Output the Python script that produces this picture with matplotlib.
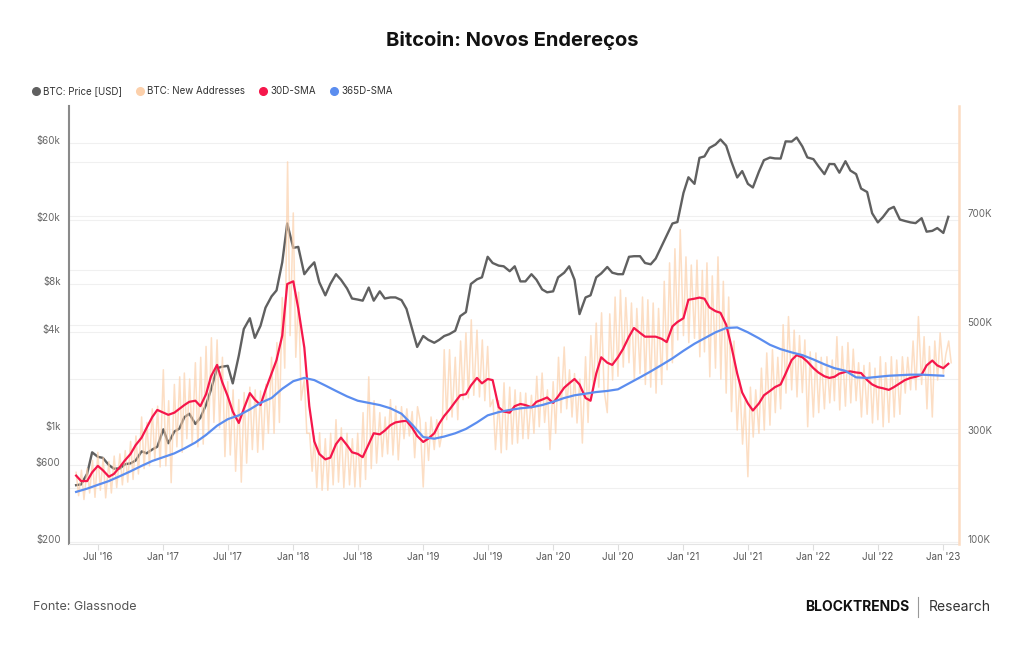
import pandas as pd
import matplotlib
matplotlib.use('Agg')
import matplotlib.pyplot as plt
from matplotlib.lines import Line2D
from matplotlib.ticker import NullLocator
from matplotlib.transforms import blended_transform_factory, ScaledTranslation

plt.rcParams['font.family'] = ['Inter', 'DejaVu Sans']

# dates: half-monthly for price and 30D SMA, monthly for 365D SMA, ~weekly for new addresses
half_dates = pd.date_range('2016-05-01', '2023-01-15', freq='SMS')
month_dates = pd.date_range('2016-05-01', '2023-01-01', freq='MS')
week_dates = [m + pd.Timedelta(days=d) for m in month_dates for d in (0, 7, 15, 22)]

# BTC price (USD)
price = [
    450, 455, 530, 720, 675, 665, 600, 570, 572, 607, 615, 640, 730, 710, 750, 780,
    1000, 820, 970, 1010, 1190, 1250, 1080, 1180, 1420, 1770, 2400, 2450,
    2480, 1930, 2870, 4200, 4900, 3700, 4400, 5700, 6700, 7300, 10900, 19000,
    13400, 13600, 9200, 10100, 10900, 8200, 6800, 8000, 9200, 8500, 7500, 6500,
    6400, 6300, 7600, 6300, 7200, 6500, 6600, 6600, 6350, 5600, 4200, 3250,
    3800, 3600, 3450, 3600, 3800, 3900, 4100, 5050, 5350, 8000, 8550, 8800,
    11800, 10800, 10400, 10300, 9600, 10300, 8300, 8300, 9200, 8500, 7400, 7100,
    7200, 8800, 9400, 10300, 8500, 5200, 6600, 6800, 8800, 9300, 10200, 9400,
    9200, 9200, 11800, 11900, 11900, 10800, 10600, 11500, 13800, 16000, 19000, 19400,
    29400, 36800, 33500, 48600, 49600, 56000, 58800, 63200, 57800, 46400, 36700, 40200,
    33500, 31800, 39900, 47000, 48800, 48200, 48100, 61500, 61300, 65000, 57200, 48900,
    47700, 43100, 38500, 44500, 44400, 39300, 46300, 40500, 38500, 31300, 29800, 22000,
    19300, 20800, 23300, 24100, 20100, 19700, 19300, 19100, 20500, 16900, 17100, 17800,
    16600, 20900,
]

# BTC new addresses (thousands)
new_addr = [
    228, 185, 232, 178, 235, 190, 250, 182, 265, 195, 255, 181, 248, 190, 258, 200,
    262, 205, 268, 210, 285, 215, 295, 225, 330, 235, 320, 240, 345, 250, 350, 238,
    417, 240, 360, 209, 390, 275, 404, 265, 411, 290, 400, 280, 430, 275, 440, 280,
    460, 300, 476, 320, 472, 310, 440, 257, 395, 260, 380, 230, 362, 210, 375, 245,
    385, 270, 380, 265, 378, 270, 390, 300, 440, 300, 467, 320, 550, 420, 800, 480,
    706, 440, 560, 361, 400, 300, 300, 230, 295, 200, 301, 195, 290, 195, 300, 205,
    325, 210, 310, 200, 300, 205, 290, 201, 300, 201, 338, 215, 404, 235, 360, 245,
    338, 257, 330, 262, 362, 260, 350, 251, 349, 290, 345, 295, 340, 255, 349,
    325, 201, 320, 250, 330, 270, 325, 275, 300, 454, 325, 454, 330, 440, 325,
    470, 362, 485, 365, 509, 370, 490, 367, 472, 360, 460, 349, 362, 270, 360, 264,
    393, 270, 385, 280, 380, 282, 375, 290, 374, 290, 370, 300, 405, 312, 411, 320,
    380, 270, 395, 300, 440, 338, 459, 345, 417, 330, 410, 319, 400, 282, 441, 320,
    480, 380, 503, 385, 522, 380, 338, 520, 398, 551, 405, 564, 422, 550, 430,
    540, 398, 530, 410, 551, 390, 546, 385, 540, 374, 530, 390, 580, 417, 614, 430,
    640, 472, 675, 480, 625, 467, 610, 475, 619, 441, 600, 450, 614, 404, 590, 420,
    625, 400, 580, 374, 551, 340, 470, 306, 398, 280, 360, 220, 385, 293, 380, 300,
    420, 306, 448, 315, 454, 338, 440, 345, 500, 374, 515, 380, 490, 367, 480, 375,
    472, 312, 450, 330, 448, 338, 440, 345, 441, 356, 435, 360, 478, 343, 460, 350,
    467, 356, 455, 360, 430, 330, 425, 335, 430, 319, 420, 325, 441, 312, 430, 320,
    441, 330, 435, 335, 441, 374, 440, 380, 470, 380, 515, 390, 478, 345, 460, 330,
    470, 398, 485, 410, 445, 470, 430,
]

# 30D SMA of new addresses (thousands), half-monthly
sma30 = [
    222, 212, 212, 228, 240, 232, 220, 225, 238, 250, 262, 278, 292, 310, 330, 343,
    338, 334, 338, 345, 352, 358, 360, 350, 372, 405, 426, 395,
    368, 340, 319, 345, 374, 362, 352, 380, 410, 435, 480, 575,
    580, 530, 458, 350, 285, 262, 252, 255, 280, 292, 278, 265,
    262, 256, 280, 300, 298, 305, 315, 320, 322, 323, 310, 295,
    284, 290, 300, 318, 332, 343, 358, 370, 372, 388, 402, 392,
    400, 398, 348, 340, 338, 350, 354, 352, 348, 358, 362, 366,
    356, 368, 384, 392, 400, 390, 365, 360, 410, 440, 430, 426,
    440, 455, 478, 494, 485, 478, 478, 478, 474, 468, 497, 505,
    512, 546, 548, 550, 548, 532, 525, 522, 500, 462, 410, 375,
    355, 342, 355, 370, 378, 385, 390, 410, 435, 444, 440, 432,
    420, 412, 405, 402, 404, 410, 413, 414, 412, 411, 398, 390,
    385, 383, 380, 385, 392, 398, 402, 404, 408, 425, 434, 425,
    420, 428,
]

# 365D SMA of new addresses (thousands), monthly
sma365 = [
    192, 198, 205, 212, 221, 230, 240, 249,
    256, 263, 272, 283, 297, 314, 326, 333, 344, 356, 365, 382,
    396, 402, 398, 388, 378, 368, 360, 356, 352, 346, 336, 316,
    293, 290, 294, 300, 308, 320, 333, 339, 343, 346, 348, 352,
    358, 365, 370, 373, 376, 378, 381, 392, 403, 414, 426, 438,
    452, 465, 475, 486, 494, 495, 486, 475, 463, 455, 449, 444,
    436, 427, 420, 415, 403, 402, 404, 406, 407, 408, 408, 407,
    406,
]

y_left_ticks = [200, 600, 1000, 4000, 8000, 20000, 60000]
y_left_labels = ['$200', '$600', '$1k', '$4k', '$8k', '$20k', '$60k']
y_right_ticks = [100, 300, 500, 700]
y_right_labels = ['100K', '300K', '500K', '700K']
x_ticks = pd.date_range('2016-07-01', '2023-01-01', freq='6MS')
x_labels = [d.strftime("%b '%y") for d in x_ticks]

c_price = '#606060'
c_addr = '#fcd0ab'
c_30 = '#f5174b'
c_365 = '#5b8def'

fig = plt.figure(figsize=(10.24, 6.45), dpi=100)
ax = fig.add_axes([69/1024, 1-544/645, 890/1024, 438/645])
ax2 = ax.twinx()

ax.plot(half_dates, price, color=c_price, lw=1.7, zorder=3)
ax.set_yscale('log')

ax2.plot(week_dates, new_addr, color=c_addr, lw=1.1, alpha=0.7)
ax2.plot(half_dates, sma30, color=c_30, lw=1.6)
ax2.plot(month_dates, sma365, color=c_365, lw=1.6)

ax.set_xlim(pd.Timestamp('2016-04-11'), pd.Timestamp('2023-02-14'))
ax2.set_ylim(96, 903)

# light grid for both axes
for v in y_left_ticks:
    ax.axhline(v, color='#f0f0f0', lw=0.8, zorder=0)
tr = blended_transform_factory(ax.transAxes, ax2.transData)
for v in range(100, 900, 100):
    ax.plot([0, 1], [v, v], transform=tr, color='#f0f0f0', lw=0.8, zorder=0)
ax.set_ylim(194, 102000)

ax.set_yticks(y_left_ticks, y_left_labels)
ax.yaxis.set_minor_locator(NullLocator())
ax.tick_params(axis='y', length=0, labelsize=7, labelcolor='#666666', pad=6)
ax2.set_yticks(y_right_ticks, y_right_labels)
ax2.yaxis.set_minor_locator(NullLocator())
ax2.tick_params(axis='y', length=0, labelsize=7, labelcolor='#666666', pad=6)
ax.set_xticks(x_ticks, x_labels)
ax.tick_params(axis='x', length=4, color='#dddddd', labelsize=7, labelcolor='#555555', pad=2)

# y labels sit a little above their grid lines
shift = ScaledTranslation(0, 3/100, fig.dpi_scale_trans)
for lab in ax.get_yticklabels() + ax2.get_yticklabels():
    lab.set_transform(lab.get_transform() + shift)

for a in (ax, ax2):
    a.spines['top'].set_visible(False)
ax.spines['right'].set_visible(False)
ax2.spines['left'].set_visible(False)
ax2.spines['bottom'].set_visible(False)
ax.spines['left'].set_color('#8a8a8a')
ax.spines['left'].set_linewidth(1.5)
ax.spines['bottom'].set_color('#e4e4e4')
ax2.spines['right'].set_color('#fcdcc2')
ax2.spines['right'].set_linewidth(1.8)

fig.text(0.5, 1-40/645, 'Bitcoin: Novos Endereços', ha='center', va='center',
         fontsize=14.5, fontweight='bold', color='#111111')

handles = [Line2D([], [], marker='o', ls='', color=c, markersize=5.5)
           for c in (c_price, c_addr, c_30, c_365)]
labels = ['BTC: Price [USD]', 'BTC: New Addresses', '30D-SMA', '365D-SMA']
fig.legend(handles, labels, loc='center left', bbox_to_anchor=(28/1024, 1-91/645),
           ncol=4, frameon=False, fontsize=7, handletextpad=0.3, columnspacing=1.5,
           borderaxespad=0, handlelength=0.8, labelcolor='#333333')

fig.text(33/1024, 1-607/645, 'Fonte: Glassnode', fontsize=9, color='#555555', va='center')
fig.text(909/1024, 1-607/645, 'BLOCKTRENDS', fontsize=10, fontweight='bold',
         color='#111111', va='center', ha='right')
fig.add_artist(Line2D([918/1024, 918/1024], [1-597/645, 1-617/645], color='#999999', lw=0.8))
fig.text(929/1024, 1-607/645, 'Research', fontsize=10, color='#333333', va='center')

fig.savefig('out.png', dpi=100)
